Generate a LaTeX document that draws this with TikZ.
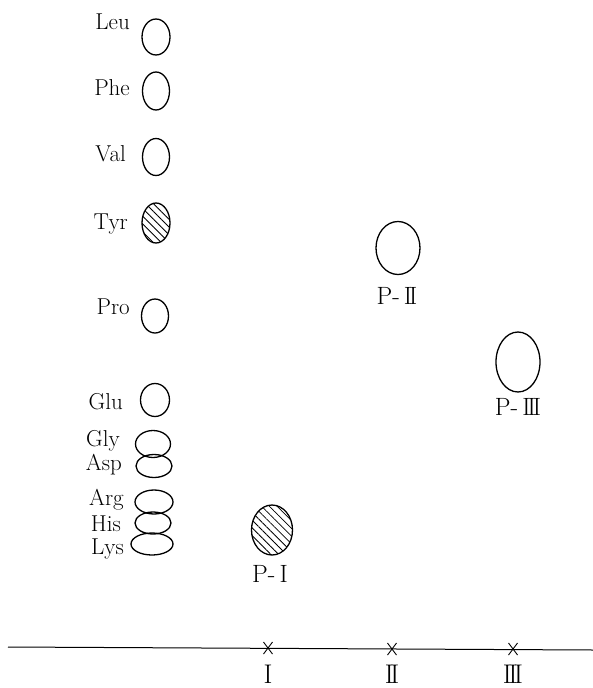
\documentclass[tikz,border=0pt]{standalone}
\usepackage{fontspec}
\usetikzlibrary{shapes.geometric,patterns.meta}
\newcommand{\rI}{I}
\newcommand{\rII}{I\kern-0.12em I}
\newcommand{\rIII}{I\kern-0.12em I\kern-0.12em I}
\begin{document}
\begin{tikzpicture}[x=1pt,y=-1pt,
  spot/.style={draw,ellipse,line width=1.3pt,inner sep=0pt},
  hatch/.style={pattern={Lines[angle=-45,distance=5.5pt,line width=0.8pt]}},
  lbl/.style={font=\fontsize{23}{25}\selectfont\addfontfeatures{LetterSpace=8},anchor=east,inner sep=0pt},
  plbl/.style={font=\fontsize{25}{27}\selectfont,inner sep=0pt},
  nlbl/.style={font=\fontsize{27}{29}\selectfont,inner sep=0pt},
  tick/.style={line width=0.9pt}]
\useasboundingbox (0,0) rectangle (593,688);
% amino acid standards
\node[spot,minimum width=28pt,minimum height=36pt] (leu) at (156,37) {};
\node[lbl] (leuL) at (130,22) {Leu};
\node[spot,minimum width=27pt,minimum height=38pt] (phe) at (156,91) {};
\node[lbl] (pheL) at (130,88) {Phe};
\node[spot,minimum width=27pt,minimum height=37pt] (val) at (156,157) {};
\node[lbl] (valL) at (126,154) {Val};
\node[spot,hatch,minimum width=28pt,minimum height=40pt] (tyr) at (156,223) {};
\node[lbl] (tyrL) at (128,224) {Tyr};
\node[spot,minimum width=27pt,minimum height=34pt] (pro) at (155,316) {};
\node[lbl] (proL) at (130,307) {Pro};
\node[spot,minimum width=29pt,minimum height=33pt] (glu) at (155,400) {};
\node[lbl] (gluL) at (123,402) {Glu};
\node[spot,minimum width=35pt,minimum height=27pt] (gly) at (153,444) {};
\node[lbl] (glyL) at (120,441) {Gly};
\node[spot,minimum width=36pt,minimum height=23pt] (asp) at (154,466) {};
\node[lbl] (aspL) at (122,465) {Asp};
\node[spot,minimum width=38pt,minimum height=24pt] (arg) at (154,502) {};
\node[lbl] (argL) at (124,500) {Arg};
\node[spot,minimum width=36pt,minimum height=22pt] (his) at (153,523) {};
\node[lbl] (hisL) at (121,524) {His};
\node[spot,minimum width=42pt,minimum height=22pt] (lys) at (152,544) {};
\node[lbl] (lysL) at (124,549) {Lys};
% peptides
\node[spot,hatch,minimum width=41pt,minimum height=50pt] (p1) at (272,530) {};
\node[plbl] (p1L) at (270,574) {P-\,\rI};
\node[spot,minimum width=44pt,minimum height=53pt] (p2) at (398,248) {};
\node[plbl] (p2L) at (397,296) {P-\,\rII};
\node[spot,minimum width=44pt,minimum height=60pt] (p3) at (518,362) {};
\node[plbl] (p3L) at (518,407) {P-\,\rIII};
% baseline
\coordinate (bl) at (8,647);
\coordinate (br) at (593,650);
\draw[line width=1pt] (bl) -- (br);
\foreach \n/\x/\y/\r in {o1/268/648/\rI, o2/392/649/\rII, o3/513/649/\rIII}{
  \coordinate (\n) at (\x,\y);
  \draw[tick] ([shift={(-4.5,-6)}]\n) -- ([shift={(4.5,6)}]\n);
  \draw[tick] ([shift={(-4.5,6)}]\n) -- ([shift={(4.5,-6)}]\n);
  \node[nlbl] (\n L) at (\x,674) {\r};
}
\end{tikzpicture}
\end{document}
